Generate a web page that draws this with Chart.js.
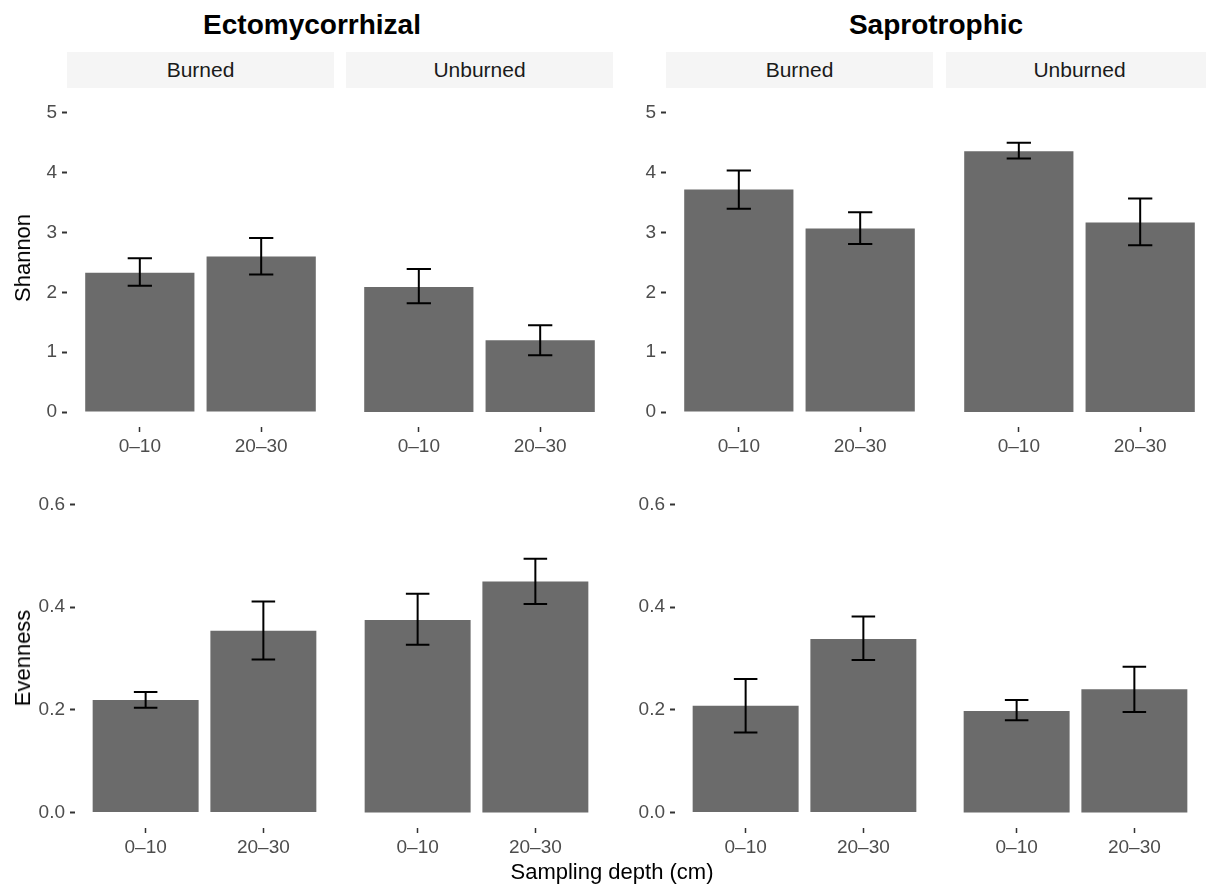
<!DOCTYPE html>
<html>
<head>
<meta charset="utf-8">
<script src="https://cdn.jsdelivr.net/npm/chart.js@4.4.1/dist/chart.umd.min.js"></script>
<style>
  body { margin: 0; width: 1206px; height: 890px; overflow: hidden; background: #fff; position: relative;
         font-family: "Liberation Sans", Arial, sans-serif; }
  .box { position: absolute; }
  .title { position: absolute; font-weight: bold; font-size: 28px; color: #000; transform: translateX(-50%); white-space: nowrap; }
  .strip { position: absolute; background: #f5f5f5; font-size: 21px; color: #1a1a1a;
           display: flex; align-items: center; justify-content: center; }
  .ytitle { position: absolute; font-size: 22px; color: #000; white-space: nowrap; transform: translate(-50%, -50%) rotate(-90deg); }
  .xtitle { position: absolute; font-size: 22px; color: #000; white-space: nowrap; transform: translateX(-50%); }
</style>
</head>
<body>
<script>
// --- data ---
const groups = ['Ectomycorrhizal', 'Saprotrophic'];
const sites = ['Burned', 'Unburned'];
const depths = ['0–10', '20–30'];

// ordre: Burned 0–10, Burned 20–30, Unburned 0–10, Unburned 20–30
const ectoShannon     = [2.33, 2.60, 2.09, 1.20];
const ectoShannonLow  = [2.11, 2.30, 1.82, 0.95];
const ectoShannonHigh = [2.57, 2.91, 2.39, 1.45];

const saproShannon     = [3.72, 3.07, 4.36, 3.17];
const saproShannonLow  = [3.40, 2.81, 4.24, 2.79];
const saproShannonHigh = [4.04, 3.34, 4.50, 3.57];

const ectoEvenness     = [0.219, 0.354, 0.375, 0.450];
const ectoEvennessLow  = [0.204, 0.298, 0.327, 0.406];
const ectoEvennessHigh = [0.235, 0.411, 0.426, 0.494];

const saproEvenness     = [0.208, 0.338, 0.198, 0.240];
const saproEvennessLow  = [0.156, 0.297, 0.180, 0.196];
const saproEvennessHigh = [0.260, 0.382, 0.219, 0.284];

const shannonTicks = [0, 1, 2, 3, 4, 5];
const evennessTicks = [0, 0.2, 0.4, 0.6];

// --- layout ---
const FONT = '"Liberation Sans", Arial, sans-serif';
const AXW = 60, XH = 40;
const rows = [
  { top: 98, h: 329, min: -0.25, max: 5.25, ticks: shannonTicks, dec: 0, title: 'Shannon', titleY: 258,
    lefts: [[67, 346], [666, 946]], w: 267, data: [[ectoShannon, ectoShannonLow, ectoShannonHigh], [saproShannon, saproShannonLow, saproShannonHigh]] },
  { top: 489, h: 339, min: -0.03, max: 0.63, ticks: evennessTicks, dec: 1, title: 'Evenness', titleY: 658,
    lefts: [[75, 346.5], [675, 946]], w: 259, data: [[ectoEvenness, ectoEvennessLow, ectoEvennessHigh], [saproEvenness, saproEvennessLow, saproEvennessHigh]] }
];

function addDiv(cls, text, style) {
  const d = document.createElement('div');
  d.className = cls;
  d.textContent = text;
  Object.assign(d.style, style);
  document.body.appendChild(d);
  return d;
}

// barres d'erreur dessinées via les échelles du graphique
const errorBars = {
  id: 'errorBars',
  afterDatasetsDraw(chart, args, opts) {
    const { x, y } = chart.scales;
    const ctx = chart.ctx;
    ctx.save();
    ctx.strokeStyle = '#000';
    ctx.lineWidth = 2;
    opts.low.forEach((lo, i) => {
      const cx = x.getPixelForValue(i + 1);
      const x0 = x.getPixelForValue(i + 0.9), x1 = x.getPixelForValue(i + 1.1);
      const yl = y.getPixelForValue(lo), yh = y.getPixelForValue(opts.high[i]);
      ctx.beginPath();
      ctx.moveTo(x0, yh); ctx.lineTo(x1, yh);
      ctx.moveTo(cx, yh); ctx.lineTo(cx, yl);
      ctx.moveTo(x0, yl); ctx.lineTo(x1, yl);
      ctx.stroke();
    });
    ctx.restore();
  }
};

function makePanel(row, left, showY, mean, low, high) {
  const box = document.createElement('div');
  box.className = 'box';
  const offs = showY ? AXW : 0;
  Object.assign(box.style, { left: (left - offs) + 'px', top: row.top + 'px', width: (row.w + offs) + 'px', height: (row.h + XH) + 'px' });
  const cv = document.createElement('canvas');
  box.appendChild(cv);
  document.body.appendChild(box);

  const tickFont = { family: FONT, size: 19 };
  new Chart(cv, {
    type: 'bar',
    data: {
      datasets: [{
        data: mean.map((v, i) => ({ x: i + 1, y: v })),
        backgroundColor: '#6b6b6b',
        borderWidth: 0,
        barPercentage: 0.9,
        categoryPercentage: 1
      }]
    },
    options: {
      responsive: true, maintainAspectRatio: false, animation: false,
      layout: { padding: 0 },
      events: [],
      plugins: { legend: { display: false }, tooltip: { enabled: false }, errorBars: { low, high } },
      scales: {
        x: {
          type: 'linear', min: 0.4, max: 2.6, offset: false,
          grid: { display: true, offset: false, drawOnChartArea: false, tickLength: 5, tickColor: '#333', tickWidth: 1.5 },
          border: { display: false },
          ticks: { stepSize: 1, includeBounds: false, autoSkip: false, maxRotation: 0, padding: 3,
                   color: '#4d4d4d', font: tickFont, callback: v => depths[v - 1] },
          afterBuildTicks: s => { s.ticks = depths.map((d, i) => ({ value: i + 1 })); },
          afterFit: s => { s.height = XH; s.paddingLeft = 0; s.paddingRight = 0; }
        },
        y: {
          display: showY, min: row.min, max: row.max,
          grid: { display: true, drawOnChartArea: false, tickLength: 5, tickColor: '#333', tickWidth: 2 },
          border: { display: false },
          ticks: { includeBounds: false, padding: 5, color: '#4d4d4d', font: tickFont, callback: v => v.toFixed(row.dec) },
          afterBuildTicks: s => { s.ticks = row.ticks.map(v => ({ value: v })); },
          afterFit: s => { s.width = showY ? AXW : 0; s.paddingTop = 0; s.paddingBottom = 0; }
        }
      }
    },
    plugins: [errorBars]
  });
}

rows.forEach((row, r) => {
  groups.forEach((g, c) => {
    const d = row.data[c];
    sites.forEach((site, k) => {
      const left = row.lefts[c][k];
      const idx = [2 * k, 2 * k + 1];
      makePanel(row, left, k === 0, idx.map(i => d[0][i]), idx.map(i => d[1][i]), idx.map(i => d[2][i]));
      if (r === 0) {
        addDiv('strip', site, { left: left + 'px', top: '52px', width: row.w + 'px', height: '36px' });
      }
    });
  });
  addDiv('ytitle', row.title, { left: '23px', top: row.titleY + 'px' });
});

addDiv('title', groups[0], { left: '312px', top: '9px' });
addDiv('title', groups[1], { left: '936px', top: '9px' });
addDiv('xtitle', 'Sampling depth (cm)', { left: '612px', top: '859px' });
</script>
</body>
</html>
